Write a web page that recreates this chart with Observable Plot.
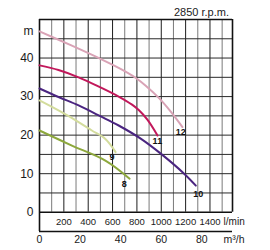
<!DOCTYPE html>
<html>
<head>
<meta charset="utf-8">
<script src="https://cdn.jsdelivr.net/npm/d3@7"></script>
<script src="https://cdn.jsdelivr.net/npm/@observablehq/plot@0.6"></script>
<style>
  html, body { margin: 0; padding: 0; background: #fff; }
  svg { font-family: "Liberation Sans", Arial, sans-serif; }
</style>
</head>
<body>
<div id="chart"></div>
<script>
// Pump curves: flow (l/min) vs head (m)
const curveNames = ["12", "11", "10", "9", "8"];
const flow12 = [0, 266, 513, 677, 788, 870, 982, 1078, 1174];
const head12 = [46.9, 43.2, 39.6, 37.0, 34.9, 32.9, 29.6, 26.1, 22.1];
const flow11 = [0, 156, 321, 486, 650, 760, 815, 886, 969];
const head11 = [38.1, 36.9, 35.0, 32.6, 30.0, 27.9, 26.5, 24.0, 19.9];
const flow10 = [0, 156, 321, 486, 650, 831, 996, 1188, 1284];
const head10 = [32.1, 29.9, 27.7, 25.1, 22.5, 19.1, 15.2, 10.0, 6.9];
const flow9 = [0, 156, 321, 430, 541, 625];
const head9 = [29.0, 26.4, 23.4, 21.2, 19.0, 15.6];
const flow8 = [0, 266, 541, 740];
const head8 = [21.2, 17.3, 13.4, 8.7];
const curveColors = ["#d9a3b6", "#c2185b", "#4a2580", "#d3dc9c", "#8da83c"];
// label anchors (flow, head) for curve numbers
const labelFlow = [1160, 968, 1303, 595, 697];
const labelHead = [20.8, 18.5, 4.8, 14.3, 7.3];

const headTicks = [0, 10, 20, 30, 40];
const flowTicks = [200, 400, 600, 800, 1000, 1200, 1400];
const m3hTicks = [0, 20, 40, 60, 80];
const gridHead = [5, 10, 15, 20, 25, 30, 35, 40, 45];
const gridFlowMinor = [100, 300, 500, 700, 900, 1100, 1300, 1500];
const gridFlowMajor = [200, 400, 600, 800, 1000, 1200, 1400];
const title = "2850 r.p.m.";
const xMax = 1585, yMin = -5, yMax = 50;

const flows = [flow12, flow11, flow10, flow9, flow8];
const heads = [head12, head11, head10, head9, head8];
const lineData = curveNames.flatMap((n, i) => flows[i].map((f, j) => ({curve: n, flow: f, head: heads[i][j], color: curveColors[i]})));
const labelData = curveNames.map((n, i) => ({name: n, flow: labelFlow[i], head: labelHead[i]}));

const chart = Plot.plot({
  width: 270,
  height: 250,
  marginLeft: 39,
  marginRight: 38,
  marginTop: 19,
  marginBottom: 19,
  x: {domain: [0, xMax], axis: null},
  y: {domain: [yMin, yMax], axis: null},
  marks: [
    Plot.ruleX(gridFlowMinor, {y1: 0, y2: yMax, stroke: "#7a7a7a", strokeWidth: 1}),
    Plot.ruleX(gridFlowMajor, {y1: 0, y2: yMax, stroke: "#1e1e1e", strokeWidth: 1}),
    Plot.ruleY(gridHead, {x1: 0, x2: xMax, stroke: "#2a2a2a", strokeWidth: 1}),
    // frame
    Plot.ruleY([0, yMax], {x1: 0, x2: xMax, stroke: "#111", strokeWidth: 1.6}),
    Plot.ruleY([yMin], {x1: 0, x2: xMax, stroke: "#111", strokeWidth: 1.6}),
    Plot.ruleX([0], {y1: yMin, y2: yMax, stroke: "#111", strokeWidth: 1.6}),
    Plot.ruleX([xMax], {y1: 0, y2: yMax, stroke: "#111", strokeWidth: 1.6}),
    // curves
    Plot.line(lineData, {x: "flow", y: "head", z: "curve", stroke: "color", strokeWidth: 2, curve: "catmull-rom"}),
    Plot.text(labelData, {x: "flow", y: "head", text: "name", fontSize: 9, fontWeight: "bold", fill: "#111"}),
    // y tick labels
    Plot.text(headTicks, {x: 0, y: d => d, text: d => String(d), dx: -6, textAnchor: "end", fontSize: 12, fill: "#1a1a1a"}),
    Plot.text(["m"], {x: 0, y: 47, text: d => d, dx: -6, textAnchor: "end", fontSize: 12, fill: "#1a1a1a"}),
    // l/min tick labels
    Plot.text(flowTicks, {x: d => d, y: -2.4, text: d => String(d), fontSize: 9.5, fill: "#1a1a1a"}),
    Plot.text(["l/min"], {x: 1512, y: -2.4, text: d => d, textAnchor: "start", fontSize: 10, fill: "#1a1a1a"}),
    // m3/h tick labels
    Plot.text(m3hTicks, {x: d => d * 1000 / 60, y: -7.0, text: d => String(d), fontSize: 10.5, fill: "#1a1a1a"}),
    Plot.text(["m³/h"], {x: 1512, y: -7.0, text: d => d, textAnchor: "start", fontSize: 10.5, fill: "#1a1a1a"}),
    // title
    Plot.text([title], {x: 1556, y: 51.8, text: d => d, textAnchor: "end", fontSize: 11, fill: "#1a1a1a"})
  ]
});
document.getElementById("chart").append(chart);
</script>
</body>
</html>
